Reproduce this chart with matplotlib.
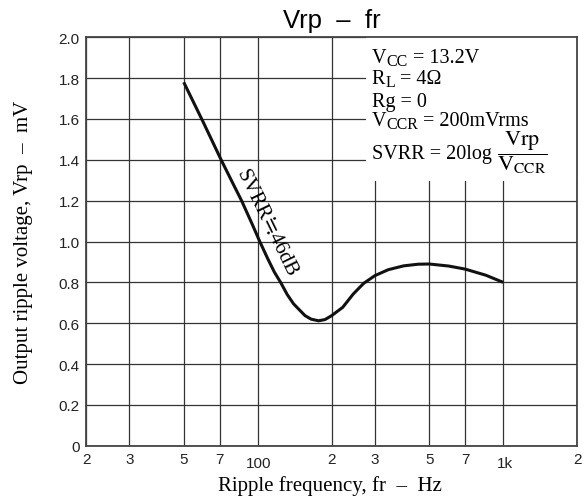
import matplotlib.pyplot as plt
import matplotlib.transforms as mtransforms
from matplotlib.patches import Rectangle

# values
freq = [50, 60, 71, 80, 86, 95, 102, 110, 117, 124, 132, 140, 148, 156, 165, 177, 188, 200, 222, 245, 270, 300, 340, 393, 450, 500, 600, 700, 850, 1000]
vrp = [1.78, 1.585, 1.40, 1.275, 1.20, 1.085, 1.00, 0.915, 0.85, 0.80, 0.74, 0.695, 0.665, 0.637, 0.62, 0.612, 0.618, 0.637, 0.678, 0.743, 0.795, 0.833, 0.862, 0.881, 0.889, 0.890, 0.880, 0.865, 0.835, 0.80]

xticks = [20, 30, 50, 70, 100, 200, 300, 500, 700, 1000, 2000]
xlabels = ["2", "3", "5", "7", "", "2", "3", "5", "7", "", "2"]
yticks = [0, 0.2, 0.4, 0.6, 0.8, 1.0, 1.2, 1.4, 1.6, 1.8, 2.0]
ylabels = ["0", "0.2", "0.4", "0.6", "0.8", "1.0", "1.2", "1.4", "1.6", "1.8", "2.0"]

# condition lines as (text, is_subscript) runs
conditions = [
    [("V", False), ("CC", True), (" = 13.2V", False)],
    [("R", False), ("L", True), (" = 4Ω", False)],
    [("Rg = 0", False)],
    [("V", False), ("CCR", True), (" = 200mVrms", False)],
]
cond_y = [0.9395, 0.888, 0.833, 0.785]

plt.rcParams['mathtext.fontset'] = 'stix'
serif = ['Liberation Serif', 'DejaVu Serif']
sans = ['Liberation Sans', 'DejaVu Sans']

fig = plt.figure(figsize=(5.84, 5.02), dpi=100)
ax = fig.add_axes([0.1473, 0.110, 0.841, 0.8137])

ax.set_xscale('log')
ax.set_xlim(20, 2000)
ax.set_ylim(0, 2.0)
ax.set_xticks(xticks)
ax.set_xticklabels(xlabels, family=sans, fontsize=11)
ax.minorticks_off()
ax.set_yticks(yticks)
ax.set_yticklabels(ylabels, family=sans, fontsize=11)
ax.tick_params(length=0, pad=4.5, colors='#222222')
ax.grid(True, color='#333333', lw=0.9)
ax.set_axisbelow(True)
for s in ax.spines.values():
    s.set_color('#444444')
    s.set_linewidth(1.3)

# these two labels sit lower in the original
trans = mtransforms.blended_transform_factory(ax.transData, ax.transAxes)
ax.text(101, -0.041, "100", transform=trans, ha='center', va='center', family=sans, fontsize=11, color='#222222')
ax.text(1012, -0.041, "1k", transform=trans, ha='center', va='center', family=sans, fontsize=11, color='#222222')

ax.plot(freq, vrp, color='#111111', lw=2.2, solid_capstyle='butt', zorder=3)

ax.text(101, 1.075, "SVRR≒46dB", rotation=-64, rotation_mode='anchor', ha='center', va='bottom',
        family=serif, fontsize=15, zorder=4)

# condition box over the grid
ax.add_patch(Rectangle((276, 1.296), 2000 - 276, 0.704, facecolor='white', edgecolor='none', zorder=2))


def write_runs(x, y, runs, size=14.5, subsize=11.5, drop=1.5):
    prev = None
    prev_shift = 0
    for text, sub in runs:
        shift = -drop if sub else 0
        fs = subsize if sub else size
        if prev is None:
            prev = ax.text(x, y, text, transform=ax.transAxes, family=serif, fontsize=fs,
                           va='baseline', ha='left', zorder=4)
        else:
            prev = ax.annotate(text, xy=(1, 0), xycoords=prev, xytext=(0, shift - prev_shift),
                               textcoords='offset points', family=serif, fontsize=fs,
                               va='bottom', ha='left', zorder=4)
        prev_shift = shift
    return prev


for runs, y in zip(conditions, cond_y):
    write_runs(0.582, y, runs)

last = write_runs(0.582, 0.705, [("SVRR = 20log ", False)])
ax.annotate(r"$\dfrac{\mathrm{Vrp}}{\mathrm{V_{CCR}}}$", xy=(1, 0), xycoords=last, xytext=(0, -9),
            textcoords='offset points', fontsize=16, va='bottom', ha='left', zorder=4)

ax.set_title("Vrp  –  fr", family=sans, fontsize=18.5, pad=7.5)
ax.set_xlabel("Ripple frequency, fr  –  Hz", family=serif, fontsize=15, va='top')
ax.xaxis.set_label_coords(0.497, -0.072)
ax.set_ylabel("Output ripple voltage, Vrp  –  mV", family=serif, fontsize=15)
ax.yaxis.set_label_coords(-0.108, 0.5)

fig.savefig("out.png", dpi=100)
